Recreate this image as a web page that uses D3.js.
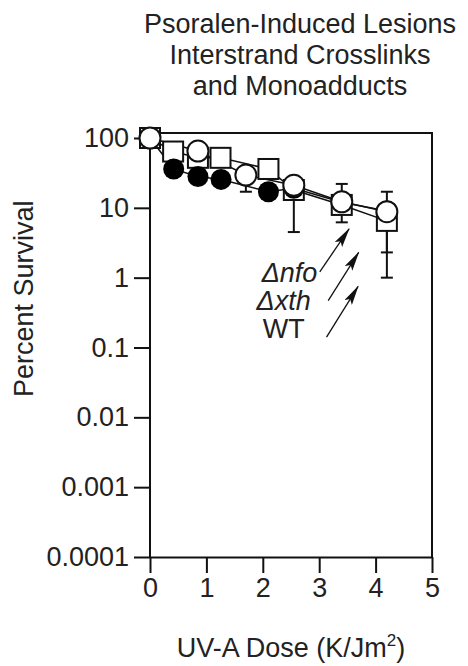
<!DOCTYPE html>
<html>
<head>
<meta charset="utf-8">
<script src="https://cdn.jsdelivr.net/npm/d3@7"></script>
<style>
  body { margin: 0; background: #fff; }
  svg text { font-family: "Liberation Sans", Arial, sans-serif; fill: #222; }
</style>
</head>
<body>
<div id="chart"></div>
<script>
// DATA //
const titleLines = ["Psoralen-Induced Lesions", "Interstrand Crosslinks", "and Monoadducts"]
const xTicks = [0, 1, 2, 3, 4, 5]
const yTicks = [0.0001, 0.001, 0.01, 0.1, 1, 10, 100]

// open squares
const squareDose = [0, 0.41, 0.85, 1.25, 2.1, 2.55, 3.4, 4.2]
const squareSurv = [100, 64, 52, 52, 36, 18, 11, 6.5]
const squareLo   = [null, null, null, null, null, null, null, 1.0]

// filled circles
const filledDose = [0, 0.42, 0.85, 1.26, 2.1, 2.55, 3.4, 4.2]
const filledSurv = [100, 36, 28, 25.5, 17, 19, 12, 9]

// open circles
const circleDose = [0, 0.85, 1.7, 2.55, 3.4, 4.2]
const circleSurv = [100, 65, 29.5, 21, 12.2, 8.8]
const circleLo   = [null, null, 17, 4.5, 6.2, 2.3]
const circleHi   = [null, null, null, 25, 22, 17]

// legend labels and arrows (dose, survival)
const legendNames = ["\u0394nfo", "\u0394xth", "WT"]
const legendItalic = [true, true, false]
const legendAt = [[1.98, 0.87], [1.89, 0.35], [2.0, 0.135]]
const arrowFrom = [[3.01, 1.21], [3.16, 0.47], [3.13, 0.141]]
const arrowTo = [[3.53, 5.0], [3.7, 2.3], [3.69, 0.75]]

// DIMENSIONS //
const dimensions = {
    width: 468,
    height: 666,
    margin: { top: 138, right: 36, bottom: 109, left: 150 },
}
dimensions.boundedWidth = dimensions.width - dimensions.margin.left - dimensions.margin.right
dimensions.boundedHeight = dimensions.height - dimensions.margin.top - dimensions.margin.bottom

const xScale = d3.scaleLinear()
    .domain([0, 5])
    .range([0, dimensions.boundedWidth])

const yScale = d3.scaleLog()
    .domain([0.0001, 100])
    .range([dimensions.boundedHeight, 0])

const svg = d3.select("#chart").append("svg")
    .attr("width", dimensions.width)
    .attr("height", dimensions.height)

// title
svg.append("text")
    .attr("text-anchor", "middle")
    .style("font-size", "27px")
    .selectAll("tspan")
    .data(titleLines)
    .join("tspan")
    .attr("x", 300)
    .attr("y", (d, i) => 33 + i * 31)
    .text(d => d)

const bounds = svg.append("g")
    .attr("transform", `translate(${dimensions.margin.left},${dimensions.margin.top})`)

// frame (top & right)
const frameTop = -5
bounds.append("path")
    .attr("d", `M0,${frameTop}H${dimensions.boundedWidth}V${dimensions.boundedHeight}`)
    .attr("fill", "none")
    .attr("stroke", "#111")
    .attr("stroke-width", 2)

// axes
const xAxis = bounds.append("g")
    .attr("transform", `translate(0,${dimensions.boundedHeight})`)
    .call(d3.axisBottom(xScale).tickValues(xTicks).tickFormat(d3.format("d"))
        .tickSize(16).tickSizeOuter(0).tickPadding(5))

const yAxis = bounds.append("g")
    .call(d3.axisLeft(yScale).tickValues(yTicks).tickFormat(d => String(d))
        .tickSize(16).tickSizeOuter(0).tickPadding(5))

yAxis.select(".domain").attr("d", `M0,${frameTop}V${dimensions.boundedHeight}`)

bounds.selectAll(".domain, .tick line")
    .attr("stroke", "#111")
    .attr("stroke-width", 2)
bounds.selectAll(".tick text")
    .style("font-size", "27px")
    .attr("fill", "#222")

// axis labels
svg.append("text")
    .attr("transform", `translate(33,${dimensions.margin.top + yScale(0.5)}) rotate(-90)`)
    .attr("text-anchor", "middle")
    .style("font-size", "27px")
    .text("Percent Survival")

const xLabel = svg.append("text")
    .attr("x", 291)
    .attr("y", 657)
    .attr("text-anchor", "middle")
    .style("font-size", "27px")
xLabel.append("tspan").text("UV-A Dose (K/Jm")
xLabel.append("tspan").attr("dy", -11).style("font-size", "17px").text("2")
xLabel.append("tspan").attr("dy", 11).text(")")

// series
const zip = (xs, ys) => xs.map((x, i) => ({ x: x, y: ys[i], i: i }))
const squares = zip(squareDose, squareSurv)
const filled = zip(filledDose, filledSurv)
const circles = zip(circleDose, circleSurv)

const line = d3.line()
    .x(d => xScale(d.x))
    .y(d => yScale(d.y))

// error bars
function drawErrors(data, lo, hi) {
    const g = bounds.append("g")
        .attr("stroke", "#111")
        .attr("stroke-width", 2)
    data.forEach((d, i) => {
        const cx = xScale(d.x)
        ;[lo && lo[i], hi && hi[i]].forEach(v => {
            if (v == null) return
            g.append("line")
                .attr("x1", cx).attr("x2", cx)
                .attr("y1", yScale(d.y)).attr("y2", yScale(v))
            g.append("line")
                .attr("x1", cx - 6).attr("x2", cx + 6)
                .attr("y1", yScale(v)).attr("y2", yScale(v))
        })
    })
}
drawErrors(squares, squareLo, null)
drawErrors(circles, circleLo, circleHi)

;[squares, filled, circles].forEach(data => {
    bounds.append("path")
        .datum(data)
        .attr("d", line)
        .attr("fill", "none")
        .attr("stroke", "#111")
        .attr("stroke-width", 1.5)
})

bounds.selectAll(".sq")
    .data(squares)
    .join("rect")
    .attr("class", "sq")
    .attr("x", d => xScale(d.x) - 10)
    .attr("y", d => yScale(d.y) - 10)
    .attr("width", 20)
    .attr("height", 20)
    .attr("fill", "#fff")
    .attr("stroke", "#111")
    .attr("stroke-width", 2)

bounds.selectAll(".filled")
    .data(filled)
    .join("circle")
    .attr("class", "filled")
    .attr("cx", d => xScale(d.x))
    .attr("cy", d => yScale(d.y))
    .attr("r", 10.5)
    .attr("fill", "#000")

bounds.selectAll(".open")
    .data(circles)
    .join("circle")
    .attr("class", "open")
    .attr("cx", d => xScale(d.x))
    .attr("cy", d => yScale(d.y))
    .attr("r", 10.5)
    .attr("fill", "#fff")
    .attr("stroke", "#111")
    .attr("stroke-width", 2)

// legend labels
bounds.selectAll(".legend")
    .data(legendNames)
    .join("text")
    .attr("class", "legend")
    .attr("x", (d, i) => xScale(legendAt[i][0]))
    .attr("y", (d, i) => yScale(legendAt[i][1]))
    .style("font-size", "27px")
    .style("font-style", (d, i) => legendItalic[i] ? "italic" : "normal")
    .text(d => d)

// arrows
svg.append("defs").append("marker")
    .attr("id", "head")
    .attr("viewBox", "0 0 20 9")
    .attr("refX", 19)
    .attr("refY", 4.5)
    .attr("markerWidth", 20)
    .attr("markerHeight", 9)
    .attr("markerUnits", "userSpaceOnUse")
    .attr("orient", "auto")
    .append("path")
    .attr("d", "M0,0L20,4.5L0,9L4,4.5Z")
    .attr("fill", "#111")

bounds.selectAll(".arrow")
    .data(arrowFrom)
    .join("line")
    .attr("class", "arrow")
    .attr("x1", d => xScale(d[0]))
    .attr("y1", d => yScale(d[1]))
    .attr("x2", (d, i) => xScale(arrowTo[i][0]))
    .attr("y2", (d, i) => yScale(arrowTo[i][1]))
    .attr("stroke", "#111")
    .attr("stroke-width", 1.3)
    .attr("marker-end", "url(#head)")
</script>
</body>
</html>
